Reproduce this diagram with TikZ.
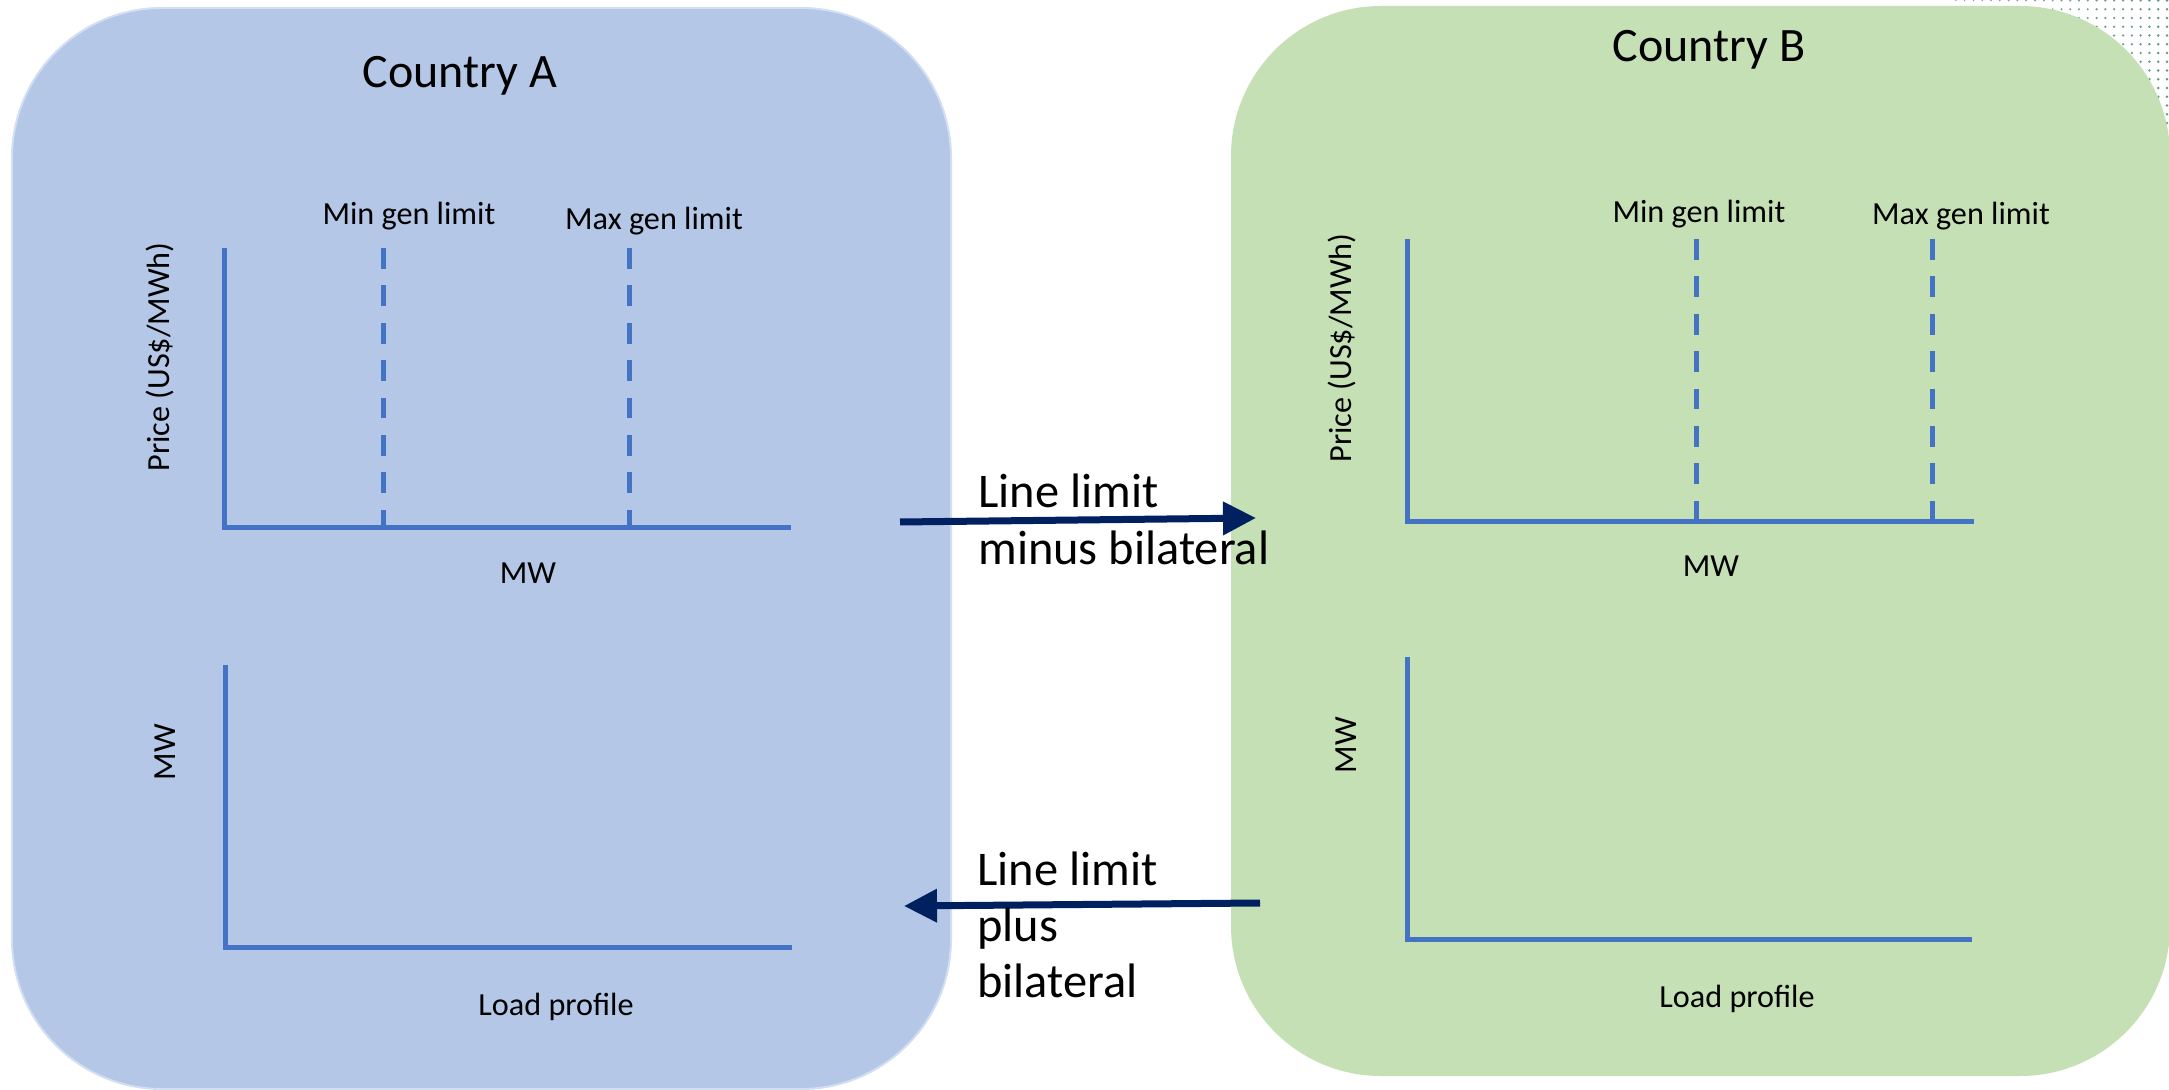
\documentclass[tikz,border=0pt]{standalone}
\usepackage{fontspec}
\setmainfont{Carlito}
\usetikzlibrary{arrows.meta}
\definecolor{boxA}{HTML}{B4C7E7}
\definecolor{boxAedge}{HTML}{D2DEF2}
\definecolor{boxB}{HTML}{C5E0B4}
\definecolor{axisc}{HTML}{4472C4}
\definecolor{arrowc}{HTML}{002060}
\definecolor{dotgrey}{HTML}{9CA0AE}
\definecolor{dotgreen}{HTML}{5F9784}
\begin{document}
\begin{tikzpicture}[x=0.5pt,y=-0.5pt,
  country/.style={font=\fontsize{24pt}{29pt}\selectfont, inner sep=0pt, anchor=base},
  lbl/.style={font=\fontsize{16.1pt}{19pt}\selectfont, inner sep=0pt, anchor=base},
  flow/.style={font=\fontsize{24.2pt}{29pt}\selectfont, inner sep=0pt, anchor=base west},
  axisline/.style={draw=axisc, line width=2.5pt},
  limitline/.style={draw=axisc, line width=2.5pt, dash pattern=on 10.4pt off 8.3pt},
  flowarrow/.style={draw=arrowc, line width=3.5pt, -{Triangle[length=16.5pt,width=16pt]}},
]
\useasboundingbox (0,0) rectangle (2169,1090);
\fill[white] (0,0) rectangle (2169,1090);

% decorative dot pattern (top right)
\foreach \i in {0,...,24}{
  \foreach \j in {0,...,18}{
    \pgfmathtruncatemacro\pp{100-\i*4}
    \fill[dotgreen!\pp!dotgrey] ({2167-8.8*\i},{0.5+8.75*\j}) circle[radius={0.4pt+(24-\i)*0.012pt}];
  }
}

% country boxes
\draw[boxAedge, fill=boxA, line width=1pt, rounded corners=75pt] (12,8) rectangle (951,1089);
\fill[boxB, rounded corners=75pt] (1231,6) rectangle (2170,1076);

\node[country] (ctyA) at (460,88) {Country A};
\node[country] (ctyB) at (1709,62) {Country B};

% ---- Country A, supply chart
\draw[axisline] (224,248) -- (224,528) -- (791,528);
\draw[limitline] (383,248) -- (383,528);
\draw[limitline] (629,248) -- (629,528);
\node[lbl] (minA) at (409,225) {Min gen limit};
\node[lbl] (maxA) at (654,230) {Max gen limit};
\node[lbl, rotate=90] (priceA) at (169,357) {Price (US\$/MWh)};
\node[lbl] (mwA) at (528,584) {MW};

% ---- Country A, load chart
\draw[axisline] (225,665) -- (225,947) -- (792,947);
\node[lbl, rotate=90] (mwyA) at (175,752) {MW};
\node[lbl] (loadA) at (556,1015) {Load profile};

% ---- Country B, supply chart
\draw[axisline] (1407,239) -- (1407,522) -- (1974,522);
\draw[limitline] (1696,239) -- (1696,522);
\draw[limitline] (1932,239) -- (1932,522);
\node[lbl] (minB) at (1699,223) {Min gen limit};
\node[lbl] (maxB) at (1961,225) {Max gen limit};
\node[lbl, rotate=90] (priceB) at (1351,348) {Price (US\$/MWh)};
\node[lbl] (mwB) at (1711,577) {MW};

% ---- Country B, load chart
\draw[axisline] (1407,657) -- (1407,939) -- (1972,939);
\node[lbl, rotate=90] (mwyB) at (1356,745) {MW};
\node[lbl] (loadB) at (1737,1007) {Load profile};

% ---- flows
\coordinate (tA) at (900,522);
\coordinate (tB) at (1256,518);
\draw[flowarrow] (tA) -- (tB);
\node[flow] (f1a) at (978,508) {Line limit};
\node[flow] (f1b) at (978,565) {minus bilateral};

\coordinate (bB) at (1260,903);
\coordinate (bA) at (904,906);
\draw[flowarrow] (bB) -- (bA);
\node[flow] (f2a) at (977,885) {Line limit};
\node[flow] (f2b) at (977,941) {plus};
\node[flow] (f2c) at (977,997) {bilateral};
\end{tikzpicture}
\end{document}
